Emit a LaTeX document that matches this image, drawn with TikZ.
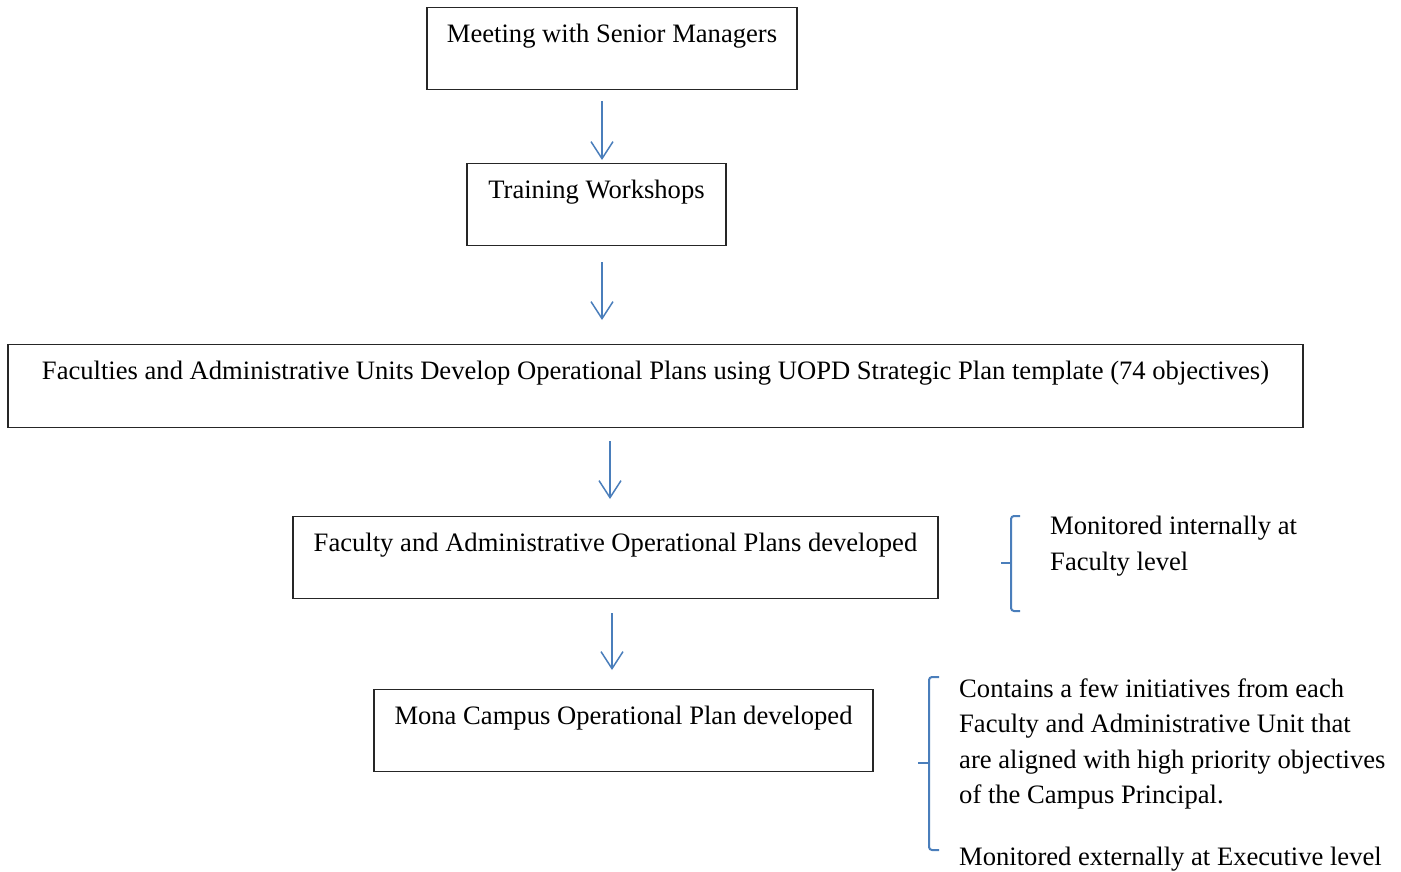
\documentclass[tikz,border=0pt]{standalone}
\usepackage{fontspec}
\setmainfont{Liberation Serif}
\usetikzlibrary{arrows.meta}
\definecolor{flowblue}{RGB}{74,126,187}
\begin{document}
\begin{tikzpicture}[x=1pt,y=-1pt,
  font=\fontsize{26.6}{35.5}\selectfont,
  stage/.style={draw=black!85, line width=1.2pt, inner xsep=0pt, inner ysep=0pt,
    text height=35pt, text depth=47pt, anchor=north},
  flow/.style={draw=flowblue, line width=1.5pt, -{Straight Barb[length=17pt,width=22pt]}},
  bracket/.style={draw=flowblue, line width=2pt, rounded corners=3pt},
  note/.style={align=left, anchor=base west, inner sep=0pt}]
\useasboundingbox (0,0) rectangle (1401,871);

% process stages
\node[stage, minimum width=370pt]  (meet)  at (612,7)    {Meeting with Senior Managers};
\node[stage, minimum width=259pt]  (train) at (596.5,163) {Training Workshops};
\node[stage, minimum width=1295pt, text depth=48pt] (dev) at (655.5,344)
  {Faculties and Administrative Units Develop Operational Plans using UOPD Strategic Plan template (74 objectives)};
\node[stage, minimum width=645pt]  (fac)   at (615.5,516) {Faculty and Administrative Operational Plans developed};
\node[stage, minimum width=499pt]  (mona)  at (623.5,689) {Mona Campus Operational Plan developed};

% arrows between stages
\draw[flow] ([xshift=-10pt,yshift=-11pt]meet.south) -- ([xshift=5.5pt,yshift=3pt]train.north);
\draw[flow] ([xshift=5.5pt,yshift=-16pt]train.south) -- ([xshift=-53.5pt,yshift=24pt]dev.north);
\draw[flow] ([xshift=-45.5pt,yshift=-13pt]dev.south) -- ([xshift=-5.5pt,yshift=17pt]fac.north);
\draw[flow] ([xshift=-3.5pt,yshift=-14pt]fac.south) -- ([xshift=-11.5pt,yshift=19pt]mona.north);

% monitoring notes with brackets (base anchor sits on the last line)
\node[note] (inner) at (1050,570) {Monitored internally at\\Faculty level};
\draw[bracket] (1020,516) -- (1011,516) -- (1011,611) -- (1020,611);
\draw[draw=flowblue, line width=2pt] (1001,563) -- (1011,563);

\node[note] (outer) at (959,865) {Contains a few initiatives from each\\Faculty and Administrative Unit that\\are aligned with high priority objectives\\of the Campus Principal.\\[26pt]Monitored externally at Executive level};
\draw[bracket] (939,677) -- (929,677) -- (929,850) -- (939,850);
\draw[draw=flowblue, line width=2pt] (918,763) -- (929,763);
\end{tikzpicture}
\end{document}
